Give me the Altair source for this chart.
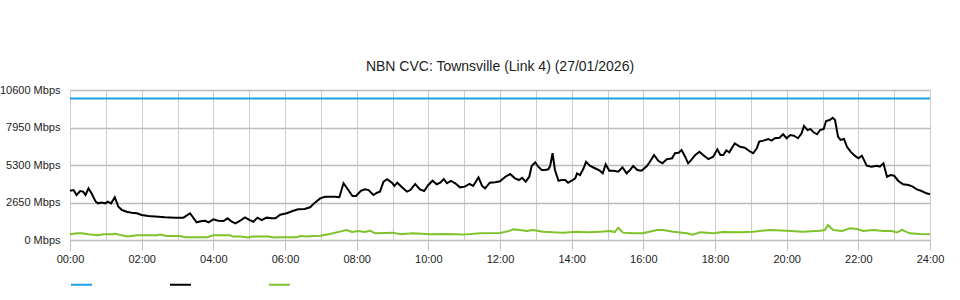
import altair as alt
import pandas as pd

TITLE = "NBN CVC: Townsville (Link 4) (27/01/2026)"

# Capacity line (Mbps)
cap_min = [0, 1440]
cap_val = [10000, 10000]

# Black series: minutes since midnight, Mbps
dl_min = [0, 6, 11, 17, 22, 26, 31, 36, 43, 47, 53, 59, 63, 69, 75, 81, 87, 95, 103, 112,
          120, 131, 148, 159, 176, 190, 201, 212, 221, 226, 232, 240, 248, 257, 264, 271, 277,
          285, 293, 301, 307, 314, 321, 329, 338, 344, 352, 363, 374, 382, 393, 402, 410, 419,
          427, 435, 444, 451, 458, 466, 473, 479, 487, 494, 500, 508, 514, 519, 525, 531, 539,
          543, 548, 555, 564, 570, 578, 586, 593, 600, 607, 614, 620, 626, 631, 638, 645, 653,
          661, 669, 675, 684, 690, 695, 703, 712, 720, 729, 737, 745, 752, 757, 763, 769, 773,
          779, 784, 790, 795, 801, 804, 808, 812, 818, 823, 829, 834, 840, 846, 849, 854, 860,
          864, 871, 879, 887, 892, 897, 903, 910, 918, 925, 932, 938, 943, 950, 957, 966, 971,
          978, 985, 992, 999, 1008, 1013, 1019, 1024, 1030, 1035, 1041, 1047, 1054, 1060, 1069,
          1077, 1084, 1089, 1094, 1099, 1104, 1113, 1122, 1130, 1139, 1144, 1150, 1154, 1161,
          1169, 1175, 1180, 1188, 1194, 1200, 1206, 1212, 1219, 1225, 1229, 1235, 1240, 1245,
          1251, 1256, 1262, 1266, 1272, 1277, 1281, 1286, 1290, 1296, 1301, 1307, 1314, 1320,
          1326, 1334, 1342, 1351, 1356, 1362, 1368, 1374, 1380, 1387, 1395, 1404, 1411, 1418,
          1426, 1434, 1440]
dl_val = [3480, 3530, 3180, 3460, 3420, 3180, 3650, 3300, 2710, 2590, 2640, 2590, 2710, 2590,
          3020, 2350, 2120, 2000, 1930, 1890, 1770, 1700, 1650, 1600, 1580, 1580, 1890, 1250,
          1340, 1360, 1250, 1460, 1360, 1340, 1530, 1290, 1180, 1360, 1600, 1410, 1290, 1580,
          1410, 1580, 1530, 1530, 1790, 1890, 2070, 2170, 2190, 2310, 2640, 2940, 3060, 3060,
          3060, 3020, 4010, 3530, 3110, 3110, 3480, 3580, 3530, 3180, 3340, 3420, 4120, 4290,
          4050, 3820, 4050, 3770, 3420, 3530, 3960, 3580, 3460, 3890, 4190, 3940, 4050, 4310,
          4010, 4170, 4010, 3720, 3770, 3960, 3820, 4430, 3820, 3650, 4050, 4080, 4150, 4470,
          4660, 4360, 4240, 4400, 4120, 4470, 5230, 5490, 5180, 4950, 4950, 5000, 5230, 6130,
          4950, 4190, 4240, 4240, 4050, 4190, 4360, 4710, 4590, 5070, 5530, 5230, 5070, 4900,
          4710, 5350, 4900, 4900, 4830, 5140, 4710, 4950, 5230, 4950, 4900, 5230, 5530, 6010,
          5600, 5420, 5700, 5770, 6130, 6170, 6360, 5890, 5420, 5700, 6010, 6240, 6010, 5720,
          5890, 6410, 6010, 6000, 6330, 6200, 6830, 6590, 6520, 6240, 6130, 6480, 6950, 7020,
          7140, 7020, 7190, 7230, 7470, 7190, 7420, 7370, 7190, 7540, 8060, 7770, 7840, 7610,
          7470, 7770, 7840, 8410, 8480, 8640, 8480, 7300, 7070, 7140, 6590, 6240, 5960, 5770,
          5960, 5250, 5180, 5250, 5180, 5420, 4470, 4590, 4540, 4170, 3940, 3890, 3770, 3580,
          3460, 3300, 3230]

# Green series: minutes since midnight, Mbps
ul_min = [0, 12, 20, 30, 47, 56, 72, 75, 84, 97, 112, 146, 151, 162, 184, 193, 230, 240, 268,
          273, 285, 298, 306, 332, 341, 352, 380, 385, 397, 407, 419, 435, 452, 463, 472, 482,
          494, 502, 511, 541, 553, 574, 603, 631, 658, 687, 720, 737, 742, 753, 765, 775, 792,
          809, 825, 849, 866, 887, 904, 912, 918, 926, 943, 959, 983, 993, 1010, 1033, 1043,
          1055, 1077, 1093, 1122, 1144, 1172, 1200, 1227, 1256, 1264, 1269, 1278, 1293, 1306,
          1318, 1328, 1345, 1361, 1376, 1385, 1393, 1406, 1423, 1440]
ul_val = [400, 470, 470, 400, 330, 400, 400, 450, 350, 240, 330, 330, 380, 280, 280, 190, 190,
          330, 330, 240, 240, 170, 240, 240, 170, 190, 190, 280, 240, 280, 300, 420, 590, 710,
          570, 640, 570, 660, 470, 520, 400, 470, 400, 420, 380, 470, 500, 660, 750, 710, 640,
          700, 590, 540, 520, 590, 540, 590, 640, 560, 870, 520, 470, 470, 700, 700, 590, 470,
          380, 540, 470, 560, 540, 590, 710, 660, 590, 660, 700, 1060, 710, 640, 830, 780, 640,
          710, 640, 640, 540, 710, 470, 420, 400]

SERIES = ["Capacity", "Inbound", "Outbound"]
COLORS = ["#1ba1e2", "#000000", "#7fc22b"]

rows = []
for name, mins, vals in zip(SERIES, [cap_min, dl_min, ul_min], [cap_val, dl_val, ul_val]):
    for m, v in zip(mins, vals):
        rows.append({"series": name, "minute": m, "mbps": v})
df = pd.DataFrame(rows)

x_hours = list(range(0, 1441, 60))
y_ticks = [0, 2650, 5300, 7950, 10600]

hhmm = "(floor(datum.value/60) < 10 ? '0' : '') + floor(datum.value/60) + ':00'"

chart = alt.Chart(df).mark_line(strokeWidth=2, interpolate="linear").encode(
    x=alt.X("minute:Q", scale=alt.Scale(domain=[0, 1440], nice=False, zero=False),
            axis=alt.Axis(values=x_hours, title=None, grid=True, gridColor="#cccccc",
                          gridWidth=1, domain=False, tickSize=10, tickWidth=1,
                          tickColor={"condition": {"test": "datum.value % 120 === 0", "value": "#c0c0c0"},
                                     "value": "transparent"},
                          labelExpr="datum.value % 120 === 0 ? " + hhmm + " : ''",
                          labelOverlap=False, labelFont="Liberation Sans", labelFontSize=11,
                          labelColor="#222222", labelPadding=3, labelFlush=False)),
    y=alt.Y("mbps:Q", scale=alt.Scale(domain=[0, 10600], nice=False),
            axis=alt.Axis(values=y_ticks, title=None, grid=True, gridColor="#bcbcbc",
                          gridWidth=1.5, domain=False, ticks=False,
                          labelExpr="datum.value + ' Mbps'", labelFont="Liberation Sans",
                          labelFontSize=11, labelColor="#222222", labelPadding=10,
                          labelOverlap=False)),
    color=alt.Color("series:N", scale=alt.Scale(domain=SERIES, range=COLORS),
                    legend=alt.Legend(orient="none", legendX=0, legendY=183, direction="horizontal",
                                      title=None, symbolType="stroke", symbolSize=441,
                                      symbolStrokeWidth=2, labelExpr="''", labelOffset=0,
                                      columnPadding=70, padding=0)),
    order=alt.Order("series:N"),
).properties(
    width=860,
    height=150,
    title=alt.Title(TITLE, font="Liberation Sans", fontSize=14, fontWeight="normal",
                    color="#222222", offset=10),
    padding={"left": 70, "top": 90, "right": 30, "bottom": 60},
    autosize=alt.AutoSizeParams(type="none"),
    background="white",
).configure_view(stroke="#c8c8c8", strokeWidth=1)

chart.save("out.html", embed_options={"renderer": "svg", "actions": False})
